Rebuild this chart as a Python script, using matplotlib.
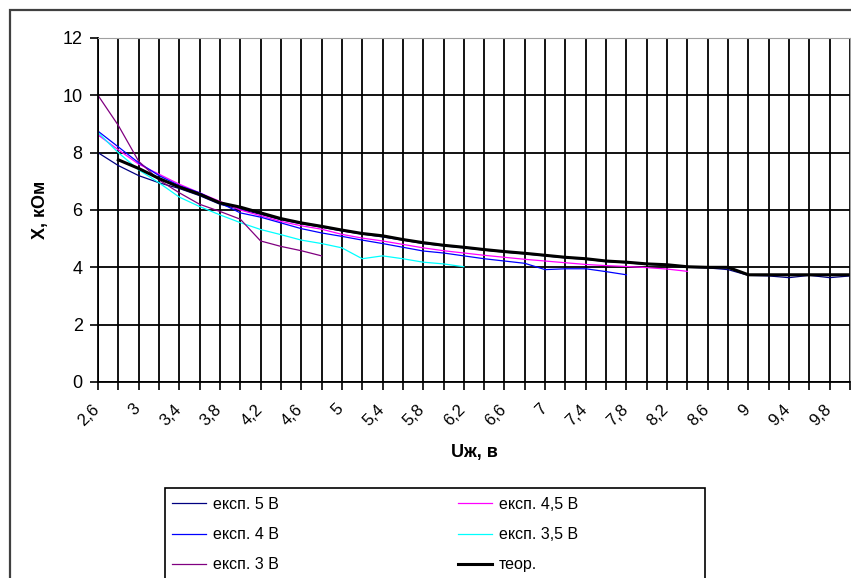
import matplotlib
matplotlib.use("Agg")
import matplotlib.pyplot as plt
from matplotlib.patches import Rectangle
import matplotlib.transforms as mtransforms

plt.rcParams['font.family'] = ['Liberation Sans', 'DejaVu Sans']

# Напруга (категорії осі X), крок 0,2 В
u = [2.6, 2.8, 3.0, 3.2, 3.4, 3.6, 3.8, 4.0, 4.2, 4.4, 4.6, 4.8, 5.0,
     5.2, 5.4, 5.6, 5.8, 6.0, 6.2, 6.4, 6.6, 6.8, 7.0, 7.2, 7.4, 7.6,
     7.8, 8.0, 8.2, 8.4, 8.6, 8.8, 9.0, 9.2, 9.4, 9.6, 9.8, 10.0]

# Опір X, кОм
x_5v = [8.0, 7.55, 7.2, 6.95, 6.75, 6.5, 6.2, 6.02, 5.85, 5.66, 5.52, 5.4,
        5.27, 5.16, 5.06, 4.95, 4.83, 4.75, 4.68, 4.6, 4.53, 4.47, 4.4, 4.33,
        4.28, 4.2, 4.16, 4.1, 4.08, 4.0, 3.98, 3.92, 3.72, 3.7, 3.64, 3.72,
        3.64, 3.7]
x_45v = [8.62, 8.1, 7.6, 7.25, 6.9, 6.6, 6.3, 6.0, 5.8, 5.6, 5.45, 5.33,
         5.15, 5.02, 4.92, 4.8, 4.68, 4.58, 4.5, 4.42, 4.35, 4.28, 4.22,
         4.16, 4.1, 4.06, 4.03, 3.99, 3.94, 3.86]
x_4v = [8.75, 8.2, 7.65, 7.2, 6.85, 6.6, 6.25, 5.9, 5.75, 5.55, 5.35, 5.2,
        5.08, 4.95, 4.83, 4.7, 4.57, 4.5, 4.4, 4.3, 4.22, 4.14, 3.92, 3.95,
        3.95, 3.85, 3.74]
x_35v = [8.7, 8.0, 7.4, 6.95, 6.45, 6.12, 5.83, 5.56, 5.32, 5.14, 4.95,
         4.83, 4.68, 4.3, 4.4, 4.3, 4.18, 4.12, 4.02]
x_3v = [10.0, 8.95, 7.7, 7.05, 6.6, 6.2, 5.95, 5.68, 4.92, 4.73, 4.58, 4.4]
x_teor = [7.75, 7.45, 7.1, 6.8, 6.55, 6.25, 6.1, 5.9, 5.7, 5.55, 5.43, 5.3,
          5.18, 5.1, 4.97, 4.86, 4.77, 4.7, 4.62, 4.55, 4.49, 4.42, 4.35,
          4.3, 4.22, 4.18, 4.12, 4.09, 4.02, 4.0, 4.0, 3.74, 3.74, 3.74,
          3.74, 3.74, 3.74]

W, H = 851, 578
fig = plt.figure(figsize=(W / 100, H / 100), dpi=100)
ax = fig.add_axes([98 / W, 1 - 382 / H, 752 / W, 344 / H])

l5, = ax.plot(u[:len(x_5v)], x_5v, color='#000080', lw=0.9)
l45, = ax.plot(u[:len(x_45v)], x_45v, color='#FF00FF', lw=0.9)
l4, = ax.plot(u[:len(x_4v)], x_4v, color='#0000FF', lw=0.9)
l35, = ax.plot(u[:len(x_35v)], x_35v, color='#00FFFF', lw=0.9)
l3, = ax.plot(u[:len(x_3v)], x_3v, color='#800080', lw=0.9)
lt, = ax.plot(u[1:1 + len(x_teor)], x_teor, color='black', lw=2.2)

ax.set_xlim(u[0], u[-1])
ax.set_ylim(0, 12)
ax.set_yticks([0, 2, 4, 6, 8, 10, 12])
ax.set_xticks(u)
labels = []
for i, v in enumerate(u):
    labels.append(f"{v:g}".replace('.', ',') if i % 2 == 0 else '')
ax.set_xticklabels(labels, rotation=45, ha='right', rotation_mode='anchor')
ax.tick_params(axis='x', length=6, width=1.2, pad=8, labelsize=12)
ax.tick_params(axis='y', length=6, width=1.2, pad=5, labelsize=13)

# підписи осі X трохи зсунуті ліворуч від поділок
shift = mtransforms.ScaledTranslation(-6 / 100, 0, fig.dpi_scale_trans)
for lbl in ax.get_xticklabels():
    lbl.set_transform(lbl.get_transform() + shift)

ax.grid(True, color='black', lw=1.3)
ax.set_axisbelow(True)
for side in ['left', 'bottom']:
    ax.spines[side].set_linewidth(1.3)
for side in ['top', 'right']:
    ax.spines[side].set_color('#a0a0a0')

fig.text(40 / W, 1 - 210 / H, 'X, кОм', rotation=90, ha='center', va='center',
         fontsize=13, fontweight='bold')
fig.text(474 / W, 1 - 453 / H, 'Uж, в', ha='center', va='center',
         fontsize=13, fontweight='bold')

# рамка діаграми та рамка легенди
fig.add_artist(Rectangle((10 / W, -0.1), 1.0, 1.1 - 10 / H, transform=fig.transFigure,
                         fill=False, edgecolor='#404040', lw=1.6))
fig.add_artist(Rectangle((165 / W, -0.1), 540 / W, 0.1 + 1 - 488 / H,
                         transform=fig.transFigure, fill=False,
                         edgecolor='black', lw=1.2))

leg_kw = dict(loc='upper left', frameon=False, fontsize=11.5, handlelength=2.1,
              handletextpad=0.45, labelspacing=0.95, borderaxespad=0,
              borderpad=0)
leg1 = fig.legend([l5, l4, l3], ['експ. 5 В', 'експ. 4 В', 'експ. 3 В'],
                  bbox_to_anchor=(172 / W, 1 - 497 / H), **leg_kw)
leg2 = fig.legend([l45, l35, lt], ['експ. 4,5 В', 'експ. 3,5 В', 'теор.'],
                  bbox_to_anchor=(458 / W, 1 - 497 / H), **leg_kw)

fig.savefig('out.png', dpi=100)
